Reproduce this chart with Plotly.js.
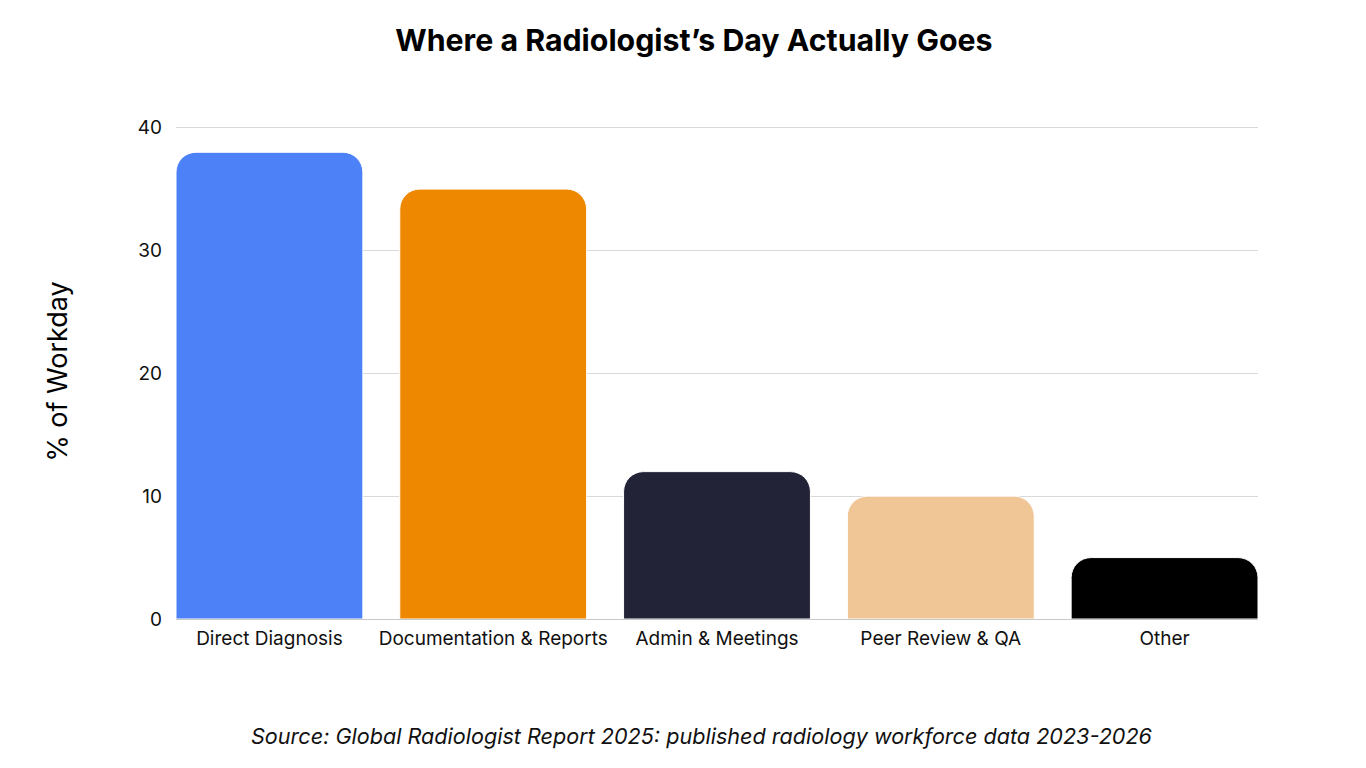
<!DOCTYPE html>
<html>
<head>
<meta charset="utf-8">
<script src="https://cdn.plot.ly/plotly-3.0.1.min.js"></script>
<style>
  html, body { margin: 0; padding: 0; background: #fff; }
  #chart { width: 1366px; height: 768px; }
</style>
</head>
<body>
<div id="chart"></div>
<script>
var categories = ["Direct Diagnosis", "Documentation & Reports", "Admin & Meetings", "Peer Review & QA", "Other"]
var shares = [38, 35, 12, 10, 5]
var barColors = ["#4d81f7", "#ee8800", "#232337", "#f0c697", "#000000"]

Plotly.newPlot(
    document.getElementById("chart"),
    [{
        type: "bar",
        x: categories,
        y: shares,
        width: 0.835,
        marker: {
            color: barColors,
            cornerradius: 20,
            line: { color: "#ffffff", width: 1 },
        },
        hoverinfo: "x+y",
    }],
    {
        width: 1366,
        height: 768,
        margin: { l: 176, r: 108, t: 124, b: 149 },
        paper_bgcolor: "#ffffff",
        plot_bgcolor: "#ffffff",
        showlegend: false,
        font: { family: "Inter, sans-serif", color: "#111111", size: 19 },
        title: {
            text: "<b>Where a Radiologist’s Day Actually Goes</b>",
            font: { family: "Inter, sans-serif", size: 30.3, color: "#000000" },
            x: 0.508,
            xanchor: "center",
            y: 0.948,
            yanchor: "middle",
        },
        xaxis: {
            range: [-0.4175, 4.4175],
            showgrid: false,
            showline: false,
            zeroline: false,
            ticks: "",
            ticklabelstandoff: 6,
            tickfont: { size: 19, color: "#111111" },
        },
        yaxis: {
            range: [0, 40.3],
            tickvals: [0, 10, 20, 30, 40],
            showgrid: true,
            gridcolor: "#d9d9d9",
            gridwidth: 1,
            zeroline: true,
            zerolinecolor: "#c8c8c8",
            zerolinewidth: 1,
            showline: false,
            ticks: "",
            ticklen: 0,
            ticklabelstandoff: 13,
            tickfont: { size: 19, color: "#111111" },
            title: {
                text: "% of Workday",
                font: { size: 27, color: "#000000" },
                standoff: 62,
            },
        },
        annotations: [{
            text: "<i>Source: Global Radiologist Report 2025: published radiology workforce data 2023-2026</i>",
            showarrow: false,
            xref: "paper",
            yref: "paper",
            x: 0.486,
            y: -0.237,
            xanchor: "center",
            yanchor: "middle",
            font: { family: "Inter, sans-serif", size: 21.6, color: "#111111" },
        }],
    },
    { displayModeBar: false }
)
</script>
</body>
</html>
